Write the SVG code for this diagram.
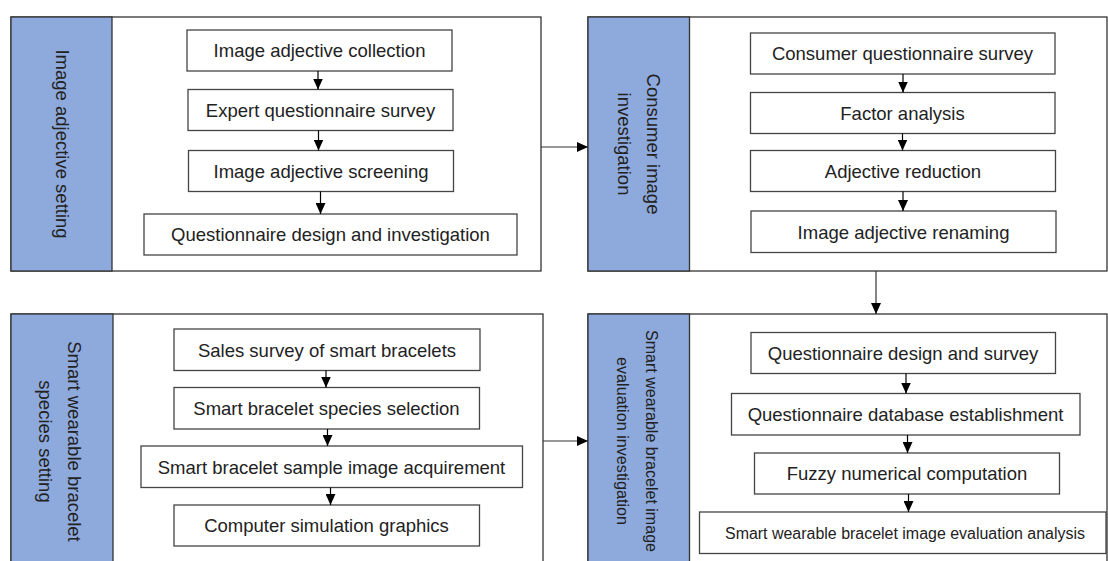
<svg xmlns="http://www.w3.org/2000/svg" width="1108" height="561" viewBox="0 0 1108 561">
<defs>
<marker id="ah" markerUnits="userSpaceOnUse" markerWidth="11" markerHeight="10" refX="11" refY="5" orient="auto">
<path d="M0,0 L11,5 L0,10 z" fill="#000"/>
</marker>
<style>
.panel{fill:#fff;stroke:#333;stroke-width:1.3}
.side{fill:#8EA9DB;stroke:#333;stroke-width:1.3}
.box{fill:#fff;stroke:#444;stroke-width:1.3}
.t{font-family:"Liberation Sans",Arial,sans-serif;font-size:18.5px;fill:#222;text-anchor:middle}
.s{font-size:16.5px}
.c{stroke:#000;stroke-width:1.2;fill:none;marker-end:url(#ah)}
.p{stroke:#333;stroke-width:1.2;fill:none;marker-end:url(#ah)}
</style>
</defs>
<rect width="1108" height="561" fill="#fff"/>

<g id="panel1">
<rect class="panel" x="11" y="17" width="530" height="254"/>
<rect class="side" x="11" y="17" width="101" height="254"/>
<text class="t" transform="translate(62,144) rotate(90)" dy="6.5">Image adjective setting</text>
</g>
<g id="n1a"><rect class="box" x="187" y="30" width="265" height="41"/><text class="t" x="319.5" y="57">Image adjective collection</text></g>
<g id="n1b"><rect class="box" x="188" y="89.5" width="265" height="41"/><text class="t" x="320.5" y="116.5">Expert questionnaire survey</text></g>
<g id="n1c"><rect class="box" x="188.5" y="150.5" width="265" height="41"/><text class="t" x="321" y="177.5">Image adjective screening</text></g>
<g id="n1d"><rect class="box" x="144" y="214" width="373" height="41"/><text class="t" x="330.5" y="241">Questionnaire design and investigation</text></g>

<g id="panel2">
<rect class="panel" x="588" y="17" width="519" height="254"/>
<rect class="side" x="588" y="17" width="101.5" height="254"/>
<text class="t" transform="translate(653,144) rotate(90)" dy="6.5">Consumer image</text>
<text class="t" transform="translate(624,144) rotate(90)" dy="6.5">investigation</text>
</g>
<g id="n2a"><rect class="box" x="750.5" y="33" width="304.5" height="41"/><text class="t" x="902.5" y="60">Consumer questionnaire survey</text></g>
<g id="n2b"><rect class="box" x="750.5" y="92.5" width="304.5" height="41"/><text class="t" x="902.5" y="119.5">Factor analysis</text></g>
<g id="n2c"><rect class="box" x="750.5" y="150.5" width="305" height="41"/><text class="t" x="903" y="177.5">Adjective reduction</text></g>
<g id="n2d"><rect class="box" x="751" y="211" width="305" height="41.5"/><text class="t" x="903.5" y="238.5">Image adjective renaming</text></g>

<g id="panel3">
<rect class="panel" x="11" y="314" width="532" height="260"/>
<rect class="side" x="11" y="314" width="102" height="260"/>
<text class="t" transform="translate(74,441.5) rotate(90)" dy="6.5">Smart wearable bracelet</text>
<text class="t" transform="translate(45,441.5) rotate(90)" dy="6.5">species setting</text>
</g>
<g id="n3a"><rect class="box" x="174" y="329" width="306" height="41.5"/><text class="t" x="327" y="356.5">Sales survey of smart bracelets</text></g>
<g id="n3b"><rect class="box" x="174" y="387.5" width="305.5" height="41.5"/><text class="t" x="326.5" y="415">Smart bracelet species selection</text></g>
<g id="n3c"><rect class="box" x="141" y="446" width="381.5" height="41.5"/><text class="t" x="331.5" y="473.5">Smart bracelet sample image acquirement</text></g>
<g id="n3d"><rect class="box" x="174" y="505" width="305.5" height="41"/><text class="t" x="326.5" y="532">Computer simulation graphics</text></g>

<g id="panel4">
<rect class="panel" x="588" y="314" width="519" height="260"/>
<rect class="side" x="588" y="314" width="101.5" height="260"/>
<text class="t s" transform="translate(652,441) rotate(90)" dy="6" textLength="222" lengthAdjust="spacingAndGlyphs">Smart wearable bracelet image</text>
<text class="t s" transform="translate(623,441) rotate(90)" dy="6" textLength="168" lengthAdjust="spacingAndGlyphs">evaluation investigation</text>
</g>
<g id="n4a"><rect class="box" x="751" y="332.5" width="304.5" height="41"/><text class="t" x="903" y="359.5">Questionnaire design and survey</text></g>
<g id="n4b"><rect class="box" x="731.5" y="393.5" width="348.5" height="41.5"/><text class="t" x="905.5" y="421">Questionnaire database establishment</text></g>
<g id="n4c"><rect class="box" x="754.5" y="453" width="305" height="41"/><text class="t" x="907" y="480">Fuzzy numerical computation</text></g>
<g id="n4d"><rect class="box" x="699.5" y="512" width="406.5" height="41.5"/><text class="t" x="905" y="538.5" style="font-size:16px" textLength="360" lengthAdjust="spacingAndGlyphs">Smart wearable bracelet image evaluation analysis</text></g>

<g id="connectors">
<line class="c" x1="318" y1="71" x2="318" y2="89.5"/>
<line class="c" x1="318.5" y1="130.5" x2="318.5" y2="150.5"/>
<line class="c" x1="320.5" y1="191.5" x2="320.5" y2="214"/>
<line class="c" x1="903" y1="74" x2="903" y2="92.5"/>
<line class="c" x1="902.5" y1="133.5" x2="902.5" y2="150.5"/>
<line class="c" x1="903" y1="191.5" x2="903" y2="211"/>
<line class="c" x1="326" y1="370.5" x2="326" y2="387.5"/>
<line class="c" x1="327.5" y1="429" x2="327.5" y2="446"/>
<line class="c" x1="330.5" y1="487.5" x2="330.5" y2="505"/>
<line class="c" x1="906" y1="373.5" x2="906" y2="393.5"/>
<line class="c" x1="907.5" y1="435" x2="907.5" y2="453"/>
<line class="c" x1="908.5" y1="494" x2="908.5" y2="512"/>
<line class="p" x1="541" y1="147" x2="588" y2="147"/>
<line class="p" x1="876" y1="271" x2="876" y2="314"/>
<line class="p" x1="543" y1="441" x2="588" y2="441"/>
</g>
</svg>
